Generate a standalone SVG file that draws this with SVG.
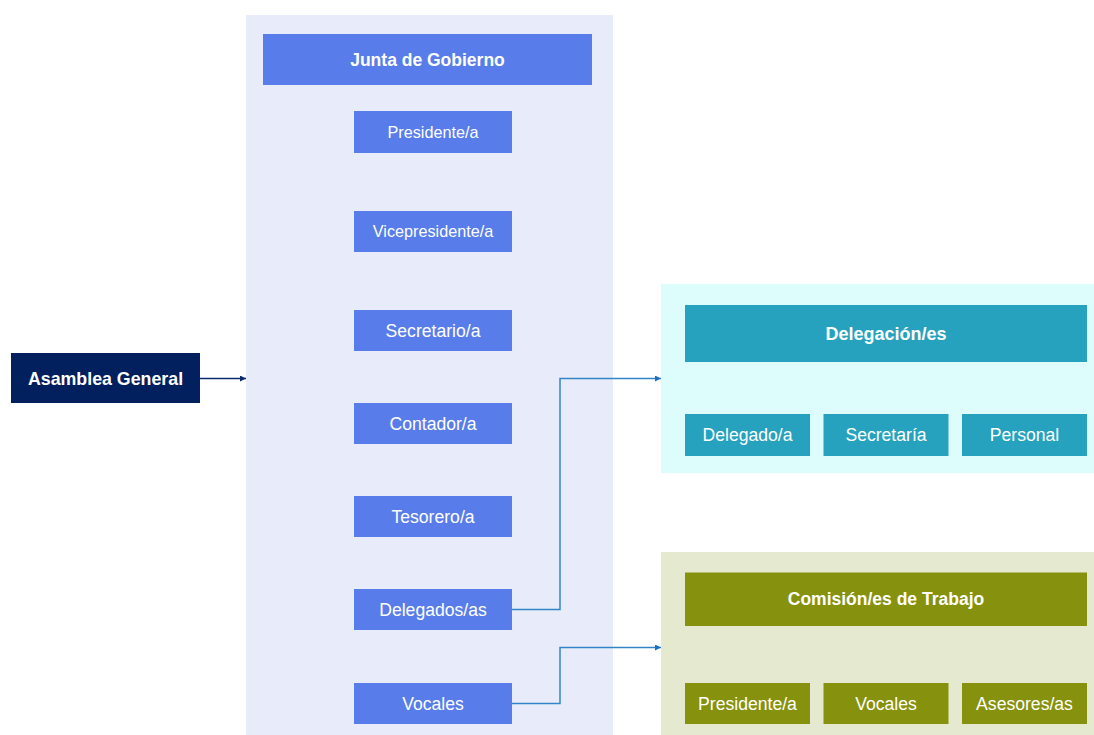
<svg xmlns="http://www.w3.org/2000/svg" width="1094" height="735" viewBox="0 0 1094 735">
  <defs>
    <marker id="arrow" viewBox="0 0 10 10" refX="10" refY="5" markerWidth="6" markerHeight="6" markerUnits="userSpaceOnUse" orient="auto">
      <path d="M0,0 L10,5 L0,10 z" fill="#1F6FC0"/>
    </marker>
    <marker id="arrowDark" viewBox="0 0 10 10" refX="10" refY="5" markerWidth="6" markerHeight="6" markerUnits="userSpaceOnUse" orient="auto">
      <path d="M0,0 L10,5 L0,10 z" fill="#0B2A6B"/>
    </marker>
  </defs>
  <style>
    text { font-family: "Liberation Sans", Arial, sans-serif; fill: #FFFFFF; text-anchor: middle; }
    .title { font-size: 17.5px; font-weight: bold; }
    .item { font-size: 17.6px; }
    .item-sm { font-size: 16.2px; }
    .junta-bg { fill: #E8EBF9; }
    .junta { fill: #587DEA; }
    .deleg-bg { fill: #DDFDFD; }
    .deleg { fill: #26A2BE; }
    .comis-bg { fill: #E5E9D0; }
    .comis { fill: #86910E; }
    .asamblea { fill: #021F5E; }
    .link { fill: none; stroke: #3286C8; stroke-width: 1.5; }
  </style>

  <rect width="1094" height="735" fill="#FFFFFF"/>

  <!-- containers -->
  <rect id="junta-container" class="junta-bg" x="246" y="15" width="367" height="720"/>
  <rect id="delegacion-container" class="deleg-bg" x="661" y="284" width="433" height="189"/>
  <rect id="comision-container" class="comis-bg" x="661" y="552" width="433" height="183"/>

  <!-- connectors -->
  <g id="connectors">
    <path d="M200,378.5 H246" fill="none" stroke="#0B2A6B" stroke-width="1.5" marker-end="url(#arrowDark)"/>
    <path class="link" d="M512,609.5 H560 V378.5 H661" marker-end="url(#arrow)"/>
    <path class="link" d="M512,703.5 H560 V647.5 H661" marker-end="url(#arrow)"/>
  </g>

  <!-- Asamblea General -->
  <g id="asamblea">
    <rect class="asamblea" x="11" y="353" width="189" height="50"/>
    <text class="title" x="105.5" y="384.5" style="font-size:17.8px">Asamblea General</text>
  </g>

  <!-- Junta de Gobierno -->
  <g id="junta">
    <rect class="junta" x="263" y="34" width="329" height="51"/>
    <text class="title" x="427.5" y="65.5">Junta de Gobierno</text>
  </g>
  <g id="presidente">
    <rect class="junta" x="354" y="111" width="158" height="42"/>
    <text class="item-sm" x="433" y="137.5">Presidente/a</text>
  </g>
  <g id="vicepresidente">
    <rect class="junta" x="354" y="211" width="158" height="41"/>
    <text class="item-sm" x="433" y="237">Vicepresidente/a</text>
  </g>
  <g id="secretario">
    <rect class="junta" x="354" y="310" width="158" height="41"/>
    <text class="item" x="433" y="336.5">Secretario/a</text>
  </g>
  <g id="contador">
    <rect class="junta" x="354" y="403" width="158" height="41"/>
    <text class="item" x="433" y="429.5">Contador/a</text>
  </g>
  <g id="tesorero">
    <rect class="junta" x="354" y="496" width="158" height="41"/>
    <text class="item" x="433" y="522.5">Tesorero/a</text>
  </g>
  <g id="delegados">
    <rect class="junta" x="354" y="589" width="158" height="41"/>
    <text class="item" x="433" y="615.5">Delegados/as</text>
  </g>
  <g id="vocales">
    <rect class="junta" x="354" y="683" width="158" height="41"/>
    <text class="item" x="433" y="709.5">Vocales</text>
  </g>

  <!-- Delegación/es -->
  <g id="delegacion">
    <rect class="deleg" x="685" y="305" width="402" height="57"/>
    <text class="title" x="886" y="339.5" style="font-size:18px">Delegación/es</text>
  </g>
  <g id="delegado">
    <rect class="deleg" x="685" y="414" width="125" height="42"/>
    <text class="item" x="747.5" y="440.5">Delegado/a</text>
  </g>
  <g id="secretaria">
    <rect class="deleg" x="823.5" y="414" width="125" height="42"/>
    <text class="item" x="886" y="440.5">Secretaría</text>
  </g>
  <g id="personal">
    <rect class="deleg" x="962" y="414" width="125" height="42"/>
    <text class="item" x="1024.5" y="440.5">Personal</text>
  </g>

  <!-- Comisión/es de Trabajo -->
  <g id="comision">
    <rect class="comis" x="685" y="572.5" width="402" height="53.5"/>
    <text class="title" x="886" y="605">Comisión/es de Trabajo</text>
  </g>
  <g id="comision-presidente">
    <rect class="comis" x="685" y="683" width="125" height="41"/>
    <text class="item" x="747.5" y="709.5">Presidente/a</text>
  </g>
  <g id="comision-vocales">
    <rect class="comis" x="823.5" y="683" width="125" height="41"/>
    <text class="item" x="886" y="709.5">Vocales</text>
  </g>
  <g id="asesores">
    <rect class="comis" x="962" y="683" width="125" height="41"/>
    <text class="item" x="1024.5" y="709.5">Asesores/as</text>
  </g>
</svg>
